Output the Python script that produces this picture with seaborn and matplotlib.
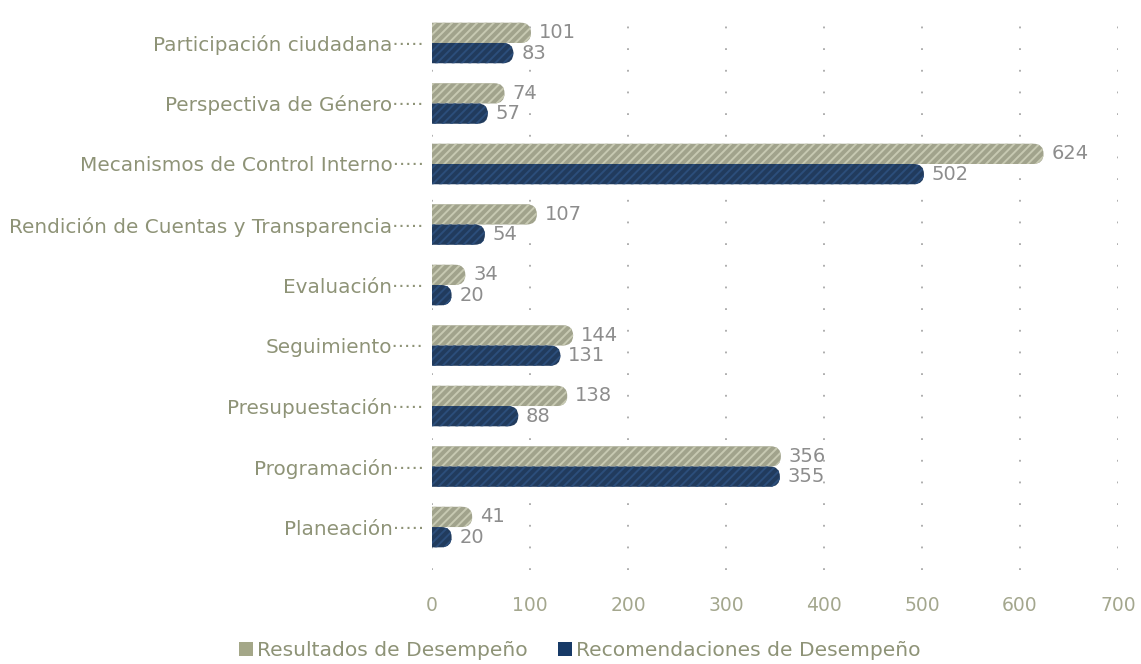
import numpy as np
import pandas as pd
import matplotlib.pyplot as plt
import seaborn as sns
from matplotlib.patches import FancyBboxPatch, Patch

# datos
categorias = ["Participación ciudadana", "Perspectiva de Género", "Mecanismos de Control Interno",
              "Rendición de Cuentas y Transparencia", "Evaluación", "Seguimiento",
              "Presupuestación", "Programación", "Planeación"]
resultados = [101, 74, 624, 107, 34, 144, 138, 356, 41]
recomendaciones = [83, 57, 502, 54, 20, 131, 88, 355, 20]
series = ["Resultados de Desempeño", "Recomendaciones de Desempeño"]
x_ticks = [0, 100, 200, 300, 400, 500, 600, 700]

VERDE = "#a4a788"
AZUL = "#173a67"
HATCH_VERDE = "#c7c9b2"
HATCH_AZUL = "#2c4e7b"
TXT = "#8e9377"
GRIS = "#8d8d8d"

df = pd.DataFrame({
    "categoria": categorias * 2,
    "valor": resultados + recomendaciones,
    "serie": [series[0]] * len(categorias) + [series[1]] * len(categorias),
})

sns.set_theme(style="white")
plt.rcParams["font.family"] = ["DejaVu Sans"]
plt.rcParams["hatch.linewidth"] = 1.4

fig = plt.figure(figsize=(11.41, 6.64), dpi=100)
ax = fig.add_axes([432 / 1141, 1 - 570 / 664, (1118 - 432) / 1141, 560 / 664])

sns.barplot(data=df, y="categoria", x="valor", hue="serie", orient="h",
            palette=[VERDE, AZUL], width=0.67, dodge=True, ax=ax, legend=False,
            order=categorias, hue_order=series)

ax.set_xlim(0, 700)
ax.set_ylim(8.71, -0.545)

# redondear el extremo derecho de las barras
fig.canvas.draw()
bbox = ax.get_window_extent()
px_x = bbox.width / 700
py = bbox.height / (8.71 + 0.545)
rects = [p for p in ax.patches]
for p in rects:
    x0, y0, w, h = p.get_x(), p.get_y(), p.get_width(), p.get_height()
    col = p.get_facecolor()
    p.remove()
    is_green = np.allclose(col[:3], plt.matplotlib.colors.to_rgb(VERDE), atol=0.02)
    r = abs(h) / 2 * py / px_x
    box = FancyBboxPatch((x0 - r, min(y0, y0 + h)), w + r, abs(h),
                         boxstyle=f"round,pad=0,rounding_size={r}",
                         mutation_aspect=px_x / py,
                         facecolor=col, edgecolor=HATCH_VERDE if is_green else HATCH_AZUL,
                         linewidth=0, hatch="////")
    ax.add_patch(box)
    ax.text(x0 + w + 8, y0 + h / 2, f"{int(round(w))}", va="center", ha="left",
            color=GRIS, fontsize=14)

ax.set_xticks(x_ticks)
ax.set_yticks(range(len(categorias)))
ax.set_yticklabels([c + "·····" for c in categorias])
ax.tick_params(axis="y", length=0, pad=6, labelsize=14.4, labelcolor=TXT)
ax.tick_params(axis="x", length=0, pad=19, labelsize=13.5, labelcolor="#a4a78e")
ax.set_xlabel("")
ax.set_ylabel("")
ax.grid(axis="x", linestyle=(0, (1, 11)), color="#a8a8a8", linewidth=1.3)
ax.grid(axis="y", visible=False)
ax.set_axisbelow(True)
for s in ax.spines.values():
    s.set_visible(False)

handles = [Patch(facecolor=VERDE, edgecolor="none"), Patch(facecolor=AZUL, edgecolor="none")]
fig.legend(handles, series, loc="lower center", bbox_to_anchor=(0.508, -0.022), ncol=2,
           frameon=False, fontsize=14.6, labelcolor=TXT, handlelength=0.7,
           handleheight=0.7, handletextpad=0.2, columnspacing=1.5)

fig.savefig("out.png", dpi=100, facecolor="white")
